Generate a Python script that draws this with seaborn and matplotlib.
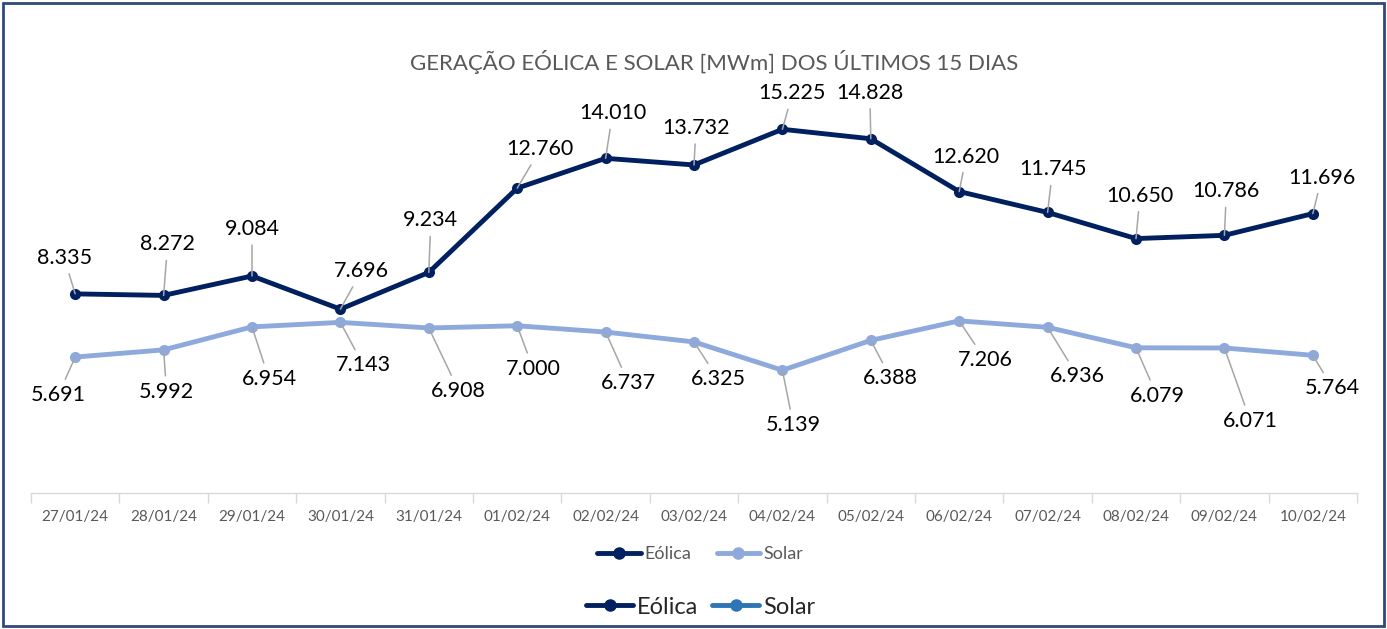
import numpy as np
import pandas as pd
import matplotlib
matplotlib.use("Agg")
import matplotlib.pyplot as plt
from matplotlib.lines import Line2D
from matplotlib.patches import Rectangle
import seaborn as sns

# data
dates = ["27/01/24", "28/01/24", "29/01/24", "30/01/24", "31/01/24", "01/02/24",
         "02/02/24", "03/02/24", "04/02/24", "05/02/24", "06/02/24", "07/02/24",
         "08/02/24", "09/02/24", "10/02/24"]
eolica = [8.335, 8.272, 9.084, 7.696, 9.234, 12.760, 14.010, 13.732, 15.225,
          14.828, 12.620, 11.745, 10.650, 10.786, 11.696]
solar = [5.691, 5.992, 6.954, 7.143, 6.908, 7.000, 6.737, 6.325, 5.139,
         6.388, 7.206, 6.936, 6.079, 6.071, 5.764]

# label offsets in pixels (dx, dy) relative to each point
eol_off = [(-11, 36), (4, 51), (0, 47), (21, 38), (2, 52), (23, 39), (7, 45), (2, 37),
           (10, 36), (-1, 46), (7, 35), (5, 43), (4, 43), (2, 44), (9, 36)]
sol_off = [(-17, -38), (3, -42), (17, -52), (23, -43), (30, -63), (16, -43), (23, -51),
           (24, -37), (11, -55), (20, -38), (26, -39), (30, -49), (21, -48), (26, -73),
           (20, -33)]

C_EOL = "#002060"
C_SOL = "#8EA9DB"
C_SOL2 = "#2E75B6"

sns.set_theme(style="white")
plt.rcParams['font.family'] = ['Lato', 'DejaVu Sans']

df = pd.DataFrame({
    "idx": list(range(len(dates))) * 2,
    "valor": eolica + solar,
    "serie": ["Eólica"] * len(dates) + ["Solar"] * len(dates),
})

fig = plt.figure(figsize=(13.87, 6.29), dpi=100)
ax = fig.add_axes([31 / 1387, 1 - 493 / 629, (1357 - 31) / 1387, (493 - 63) / 629])

sns.lineplot(data=df, x="idx", y="valor", hue="serie",
             palette={"Eólica": C_EOL, "Solar": C_SOL},
             marker="o", markersize=8, markeredgewidth=0, linewidth=3.5,
             legend=False, ax=ax)

ax.set_xlim(-0.5, len(dates) - 0.5)
ax.set_ylim(0, 18)
ax.set_xlabel("")
ax.set_ylabel("")
ax.set_yticks([])
ax.set_xticks(range(len(dates)))
ax.set_xticklabels(dates, fontsize=11, color="#595959")
ax.set_xticks(np.arange(-0.5, len(dates), 1), minor=True)
ax.tick_params(axis="x", which="major", length=0, pad=12)
ax.tick_params(axis="x", which="minor", length=7, color="#D9D9D9", width=1, direction="out", bottom=True)
for s in ["top", "left", "right"]:
    ax.spines[s].set_visible(False)
ax.spines["bottom"].set_color("#D9D9D9")
ax.spines["bottom"].set_linewidth(1)

for vals, offs in [(eolica, eol_off), (solar, sol_off)]:
    for i, (v, (dx, dy)) in enumerate(zip(vals, offs)):
        ax.annotate(f"{v:.3f}", xy=(i, v), xytext=(dx, dy), textcoords="offset pixels",
                    ha="center", va="center", fontsize=15.5, color="black",
                    arrowprops=dict(arrowstyle="-", color="#A6A6A6", lw=1.1,
                                    shrinkA=2, shrinkB=0))

fig.text(714 / 1387, 1 - 62 / 629, "GERAÇÃO EÓLICA E SOLAR [MWm] DOS ÚLTIMOS 15 DIAS",
         ha="center", va="center", fontsize=16, color="#595959")

h1 = [Line2D([0], [0], color=C_EOL, lw=3.5, marker="o", markersize=8),
      Line2D([0], [0], color=C_SOL, lw=3.5, marker="o", markersize=8)]
leg1 = fig.legend(handles=h1, labels=["Eólica", "Solar"], loc="center",
                  bbox_to_anchor=(0.505, 1 - 554 / 629), ncol=2, frameon=False,
                  fontsize=13, handlelength=2.4, handletextpad=0.2, columnspacing=1.4)
for t in leg1.get_texts():
    t.set_color("#595959")

h2 = [Line2D([0], [0], color=C_EOL, lw=3.5, marker="o", markersize=8),
      Line2D([0], [0], color=C_SOL2, lw=3.5, marker="o", markersize=8)]
fig.legend(handles=h2, labels=["Eólica", "Solar"], loc="center",
           bbox_to_anchor=(0.505, 1 - 607 / 629), ncol=2, frameon=False,
           fontsize=17, handlelength=2.0, handletextpad=0.15, columnspacing=0.6)

fig.patches.append(Rectangle((0.002, 0.004), 0.996, 0.992, transform=fig.transFigure,
                             fill=False, edgecolor="#2F4A7A", lw=2))

fig.savefig("out.png", dpi=100)
